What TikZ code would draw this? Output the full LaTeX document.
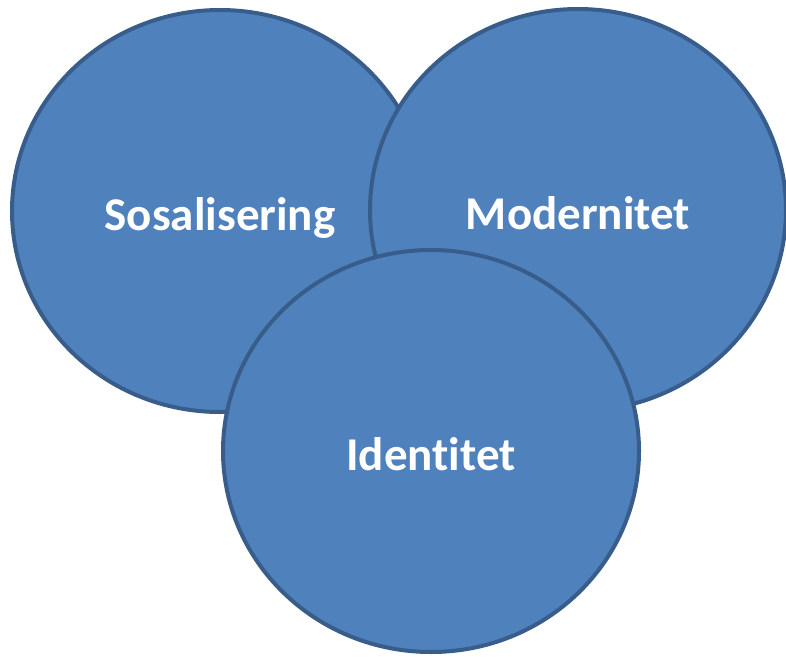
\documentclass[tikz,border=0pt]{standalone}
\usepackage{fontspec}
\setmainfont{Carlito}[Ligatures=NoCommon]
\usepackage{tikz}
\usetikzlibrary{shapes.geometric}
\definecolor{fillcolor}{HTML}{4F81BD}
\definecolor{bordercolor}{HTML}{385D8A}
\tikzset{bubble/.style={ellipse,draw=bordercolor,fill=fillcolor,line width=4pt,
  minimum width=416pt,minimum height=402pt,inner sep=0pt,text=white,
  text height=38pt,text depth=0pt,
  font=\bfseries\fontsize{47}{54}\selectfont}}

\begin{document}
\begin{tikzpicture}[x=1pt,y=-1pt]
\useasboundingbox (0,0) rectangle (786,656);
\node[bubble] (sos) at (220,211) {Sosalisering};
\node[bubble] (mod) at (578,210) {Modernitet};
\node[bubble] (ide) at (431,451) {Identitet};
\end{tikzpicture}
\end{document}
